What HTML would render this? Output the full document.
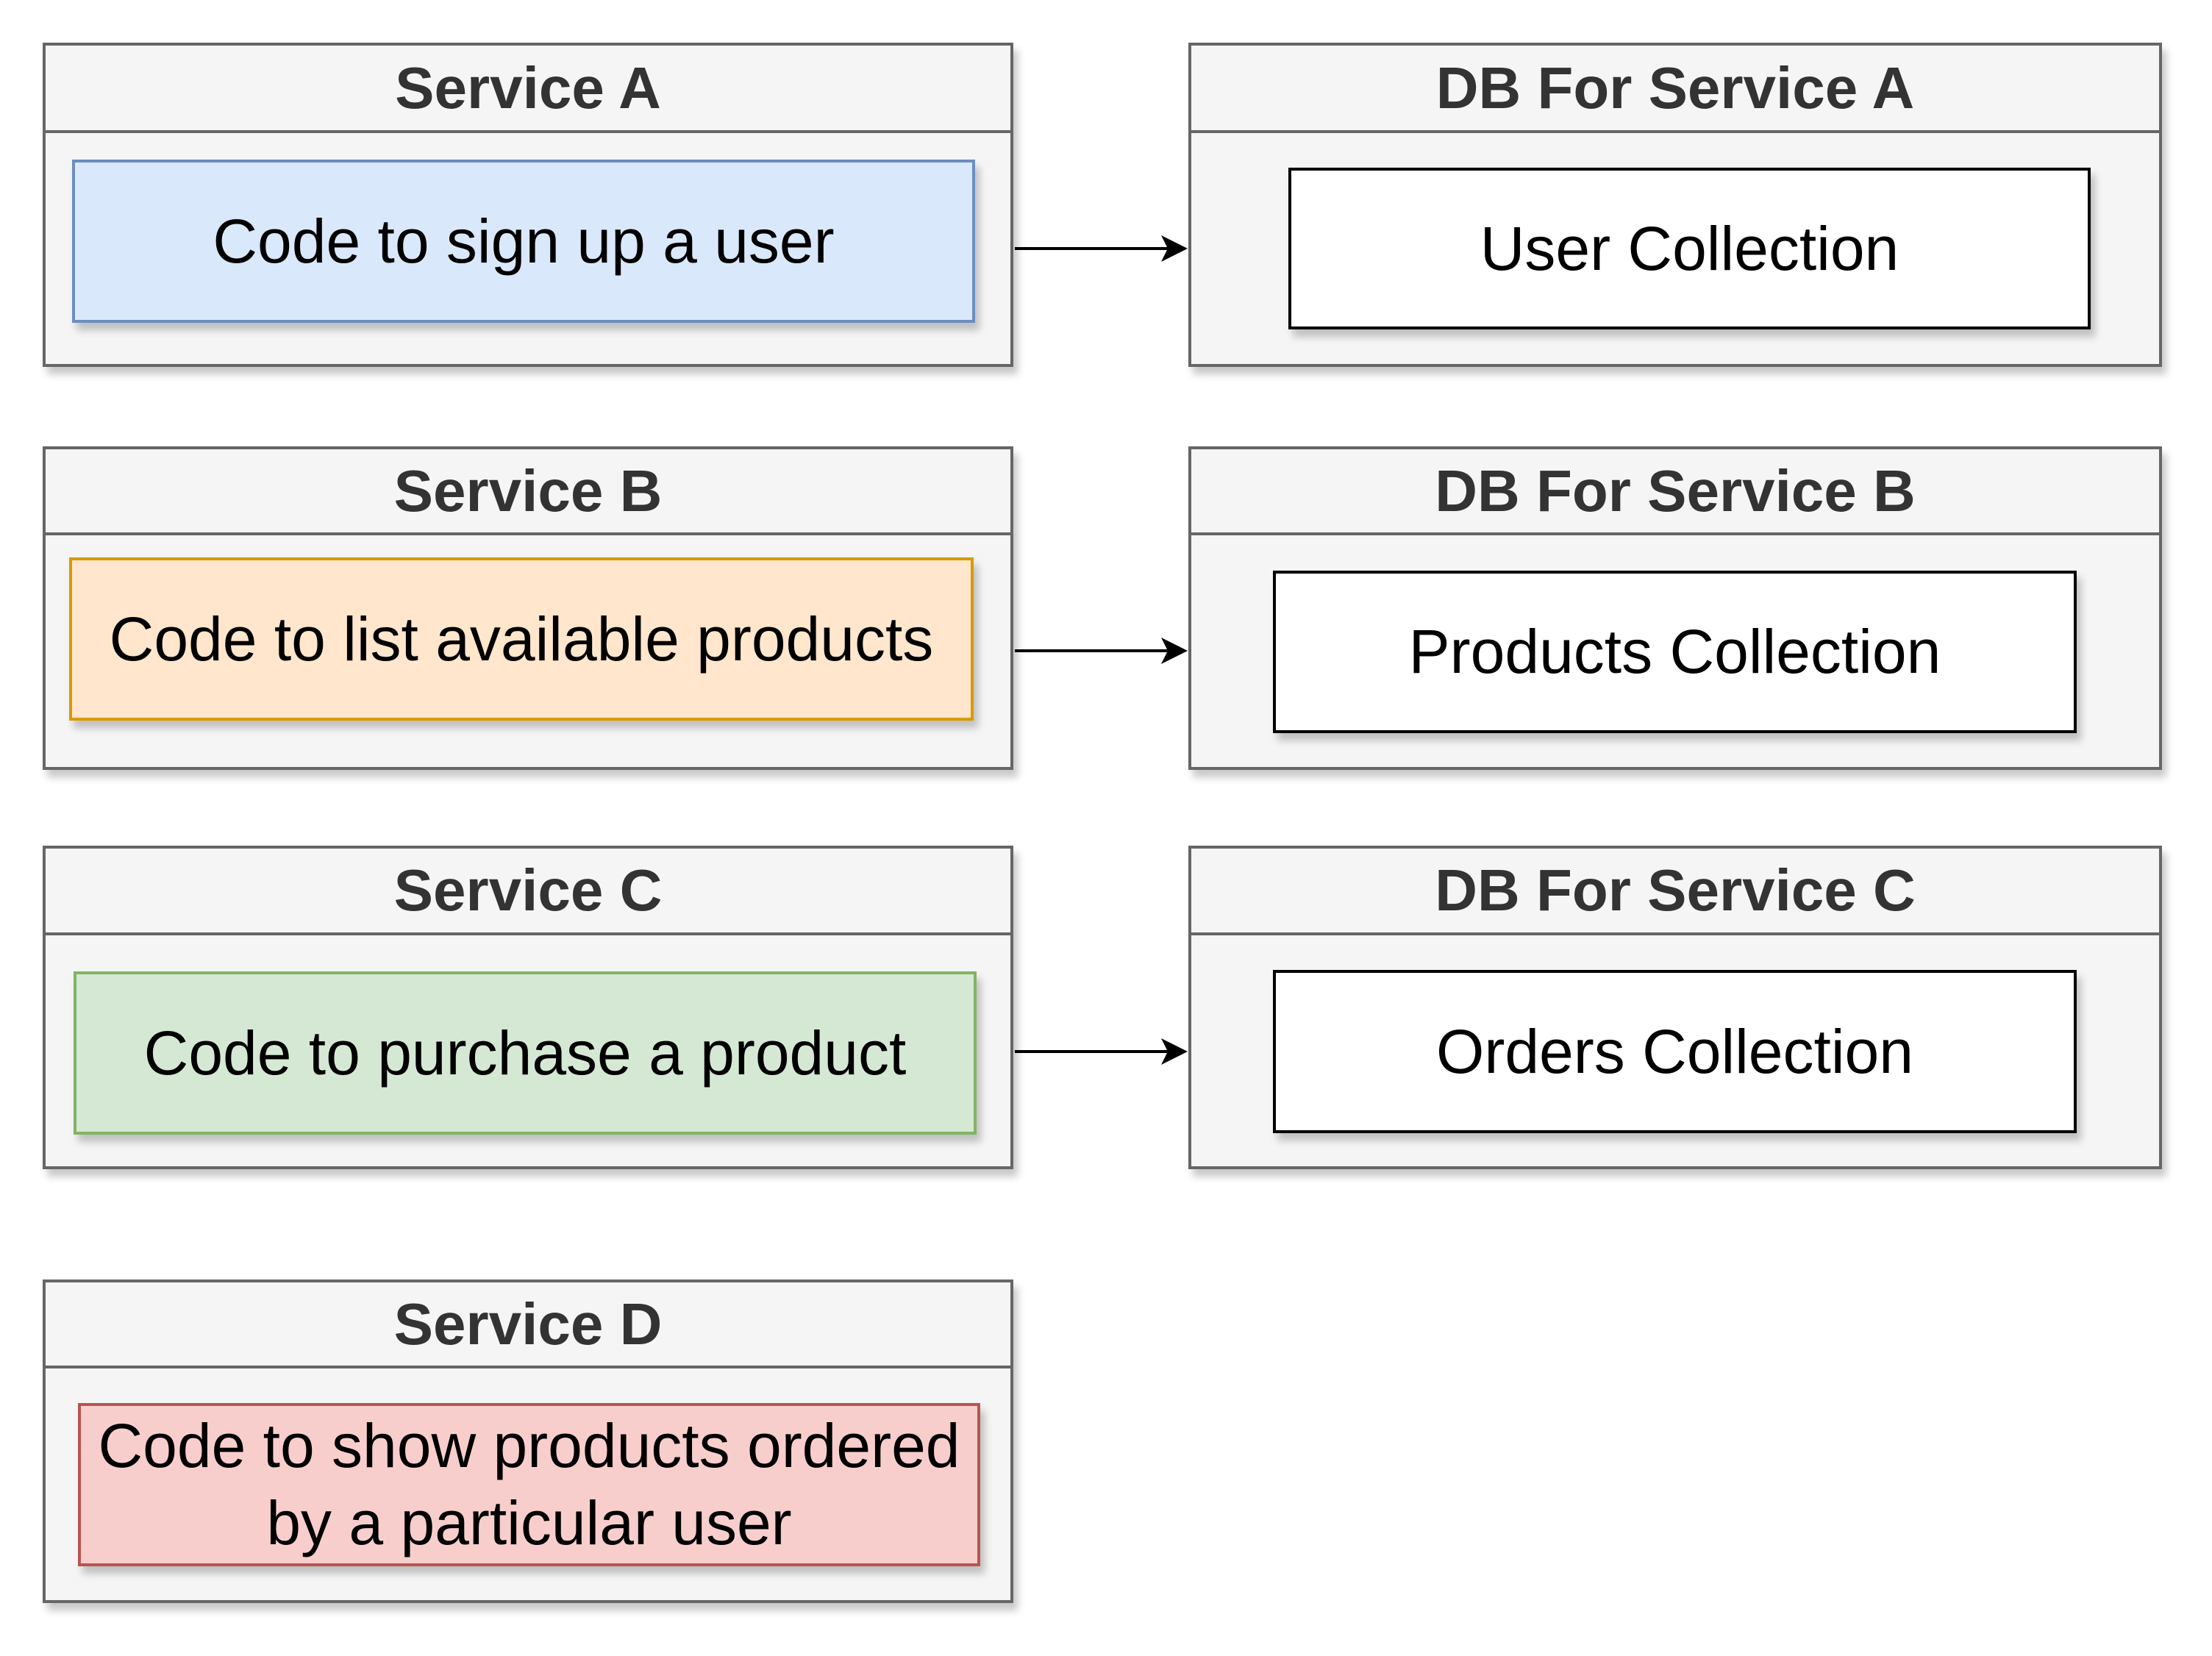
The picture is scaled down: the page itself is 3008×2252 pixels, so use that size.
<!DOCTYPE html>
<html><head><meta charset="utf-8"><style>
html,body{margin:0;padding:0;background:#fff;}
body{width:3008px;height:2252px;position:relative;overflow:hidden;font-family:"Liberation Sans",Arial,sans-serif;}
.o{position:absolute;box-sizing:border-box;border:4px solid #666;background:#f5f5f5;box-shadow:6px 10px 10px rgba(0,0,0,0.22);}
.h{position:absolute;left:0;right:0;top:0;box-sizing:border-box;border-bottom:4px solid #666;color:#333;font-weight:bold;font-size:80px;display:flex;align-items:center;justify-content:center;}
.i{position:absolute;box-sizing:border-box;border:4px solid;display:flex;align-items:center;justify-content:center;text-align:center;font-size:84px;color:#000;line-height:1.25;box-shadow:6px 10px 10px rgba(0,0,0,0.22);}
</style></head><body>
<div class="o" style="left:58px;top:58px;width:1320px;height:441px"><div class="h" style="height:119px">Service A</div></div>
<div class="o" style="left:1616px;top:58px;width:1324px;height:441px"><div class="h" style="height:119px">DB For Service A</div></div>
<div class="o" style="left:58px;top:607px;width:1320px;height:440px"><div class="h" style="height:117px">Service B</div></div>
<div class="o" style="left:1616px;top:607px;width:1324px;height:440px"><div class="h" style="height:117px">DB For Service B</div></div>
<div class="o" style="left:58px;top:1150px;width:1320px;height:440px"><div class="h" style="height:118px">Service C</div></div>
<div class="o" style="left:1616px;top:1150px;width:1324px;height:440px"><div class="h" style="height:118px">DB For Service C</div></div>
<div class="o" style="left:58px;top:1740px;width:1320px;height:440px"><div class="h" style="height:117px">Service D</div></div>

<div class="i" style="left:98px;top:217px;width:1228px;height:222px;background:#dae8fc;border-color:#6c8ebf">Code to sign up a user</div>
<div class="i" style="left:1752px;top:228px;width:1091px;height:220px;background:#fff;border-color:#000">User Collection</div>
<div class="i" style="left:94px;top:758px;width:1230px;height:222px;background:#ffe6cc;border-color:#d79b00">Code to list available products</div>
<div class="i" style="left:1731px;top:776px;width:1093px;height:221px;background:#fff;border-color:#000">Products Collection</div>
<div class="i" style="left:100px;top:1321px;width:1228px;height:222px;background:#d5e8d4;border-color:#82b366">Code to purchase a product</div>
<div class="i" style="left:1731px;top:1319px;width:1093px;height:222px;background:#fff;border-color:#000">Orders Collection</div>
<div class="i" style="left:106px;top:1908px;width:1227px;height:222px;background:#f8cecc;border-color:#b85450">Code to show products ordered<br>by a particular user</div>

<svg style="position:absolute;left:0;top:0" width="3008" height="2252">
<g stroke="#000" stroke-width="4" fill="none">
<line x1="1380" y1="338" x2="1592" y2="338"/>
<line x1="1380" y1="885" x2="1592" y2="885"/>
<line x1="1380" y1="1430" x2="1592" y2="1430"/>
</g>
<g fill="#000">
<polygon points="1615,338 1579,320 1588,338 1579,356"/>
<polygon points="1615,885 1579,867 1588,885 1579,903"/>
<polygon points="1615,1430 1579,1412 1588,1430 1579,1448"/>
</g>
</svg>
</body></html>
